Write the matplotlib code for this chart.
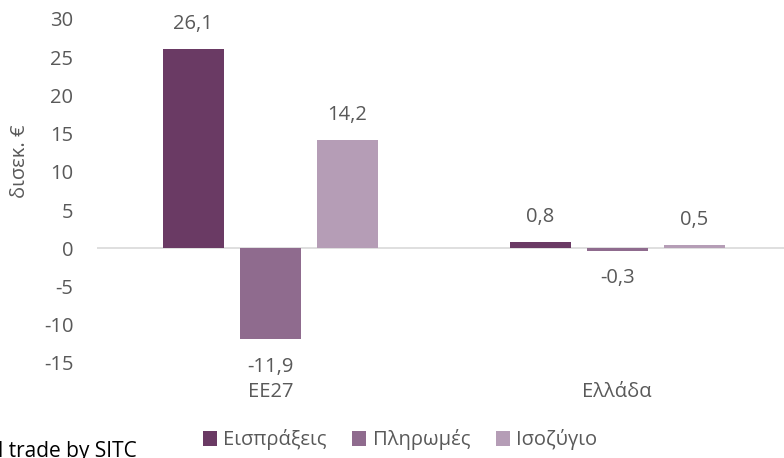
import numpy as np
import matplotlib.pyplot as plt

plt.rcParams['font.family'] = ['Open Sans', 'DejaVu Sans']
plt.rcParams['axes.unicode_minus'] = False

categories = ["ΕΕ27", "Ελλάδα"]
series = ["Εισπράξεις", "Πληρωμές", "Ισοζύγιο"]
receipts = [26.1, 0.8]
payments = [-11.9, -0.3]
balance = [14.2, 0.5]
colors = ["#6a3a64", "#8f6b8e", "#b59db6"]
grey = "#595959"
fs = 14.5

fig = plt.figure(figsize=(7.84, 4.58), dpi=100)
ax = fig.add_axes([97/784, 1-363/458, (784-97)/784, (363-19)/458])

x = np.arange(len(categories))
w = 0.176
step = 0.222
for i, (vals, name) in enumerate(zip([receipts, payments, balance], series)):
    pos = x + (i-1)*step
    ax.bar(pos, vals, w, color=colors[i], label=name, zorder=2)
    for p, v in zip(pos, vals):
        txt = f"{v:.1f}".replace(".", ",")
        off = 18 if v >= 0 else -20
        ax.annotate(txt, (p, v), xytext=(0, off), textcoords="offset points",
                    ha="center", va="center", fontsize=fs, color=grey)

ax.axhline(0, color="#d9d9d9", lw=1.2, zorder=1)
ax.set_xlim(-0.5, 1.481)
ax.set_ylim(-15, 30)
ax.set_yticks(range(-15, 31, 5))
ax.tick_params(axis="y", length=0, pad=17, labelsize=fs, labelcolor=grey)
ax.set_xticks(x)
ax.set_xticklabels(categories)
ax.tick_params(axis="x", length=0, pad=14, labelsize=fs, labelcolor=grey)
for s in ax.spines.values():
    s.set_visible(False)

ax.set_ylabel("δισεκ. €", fontsize=fs, color=grey)
ax.yaxis.set_label_coords(-0.098, 0.587)

fig.legend(loc="center", bbox_to_anchor=(400/784, 1-440/458), ncol=3, frameon=False,
           fontsize=fs, labelcolor=grey, handlelength=0.7, handleheight=0.7,
           handletextpad=0.3, columnspacing=1.3)
fig.text(-2/784, 1-452/458, "l trade by SITC", fontsize=15, color="black", va="center")

fig.savefig("out.png", dpi=100)
